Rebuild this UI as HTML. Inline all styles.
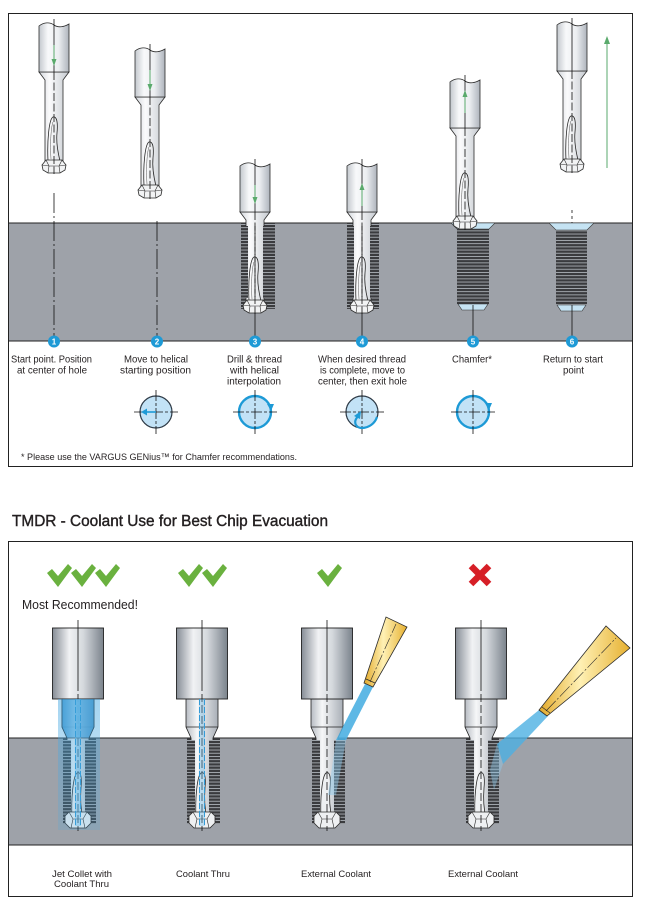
<!DOCTYPE html>
<html><head><meta charset="utf-8"><style>
html,body{margin:0;padding:0;background:#fff;}
svg{display:block;}
text{font-family:"Liberation Sans",sans-serif;fill:#231f20;}
</style></head><body>
<svg width="646" height="903" viewBox="0 0 646 903" xmlns="http://www.w3.org/2000/svg">
<defs>
 <linearGradient id="gTop" x1="0" x2="1" y1="0" y2="0">
  <stop offset="0" stop-color="#c3c8ce"/>
  <stop offset="0.3" stop-color="#f8f9fa"/>
  <stop offset="0.65" stop-color="#eceef1"/>
  <stop offset="1" stop-color="#aeb4bc"/>
 </linearGradient>
 <linearGradient id="gNeckT" x1="0" x2="1" y1="0" y2="0">
  <stop offset="0" stop-color="#d3d7dc"/>
  <stop offset="0.35" stop-color="#fbfbfc"/>
  <stop offset="1" stop-color="#c4c9cf"/>
 </linearGradient>
 <linearGradient id="gMetal" x1="0" x2="1" y1="0" y2="0">
  <stop offset="0" stop-color="#868d96"/>
  <stop offset="0.33" stop-color="#f1f2f4"/>
  <stop offset="0.6" stop-color="#d5d9dd"/>
  <stop offset="1" stop-color="#7b838c"/>
 </linearGradient>
 <linearGradient id="gNeckB" x1="0" x2="1" y1="0" y2="0">
  <stop offset="0" stop-color="#b7bcc3"/>
  <stop offset="0.35" stop-color="#f6f7f8"/>
  <stop offset="1" stop-color="#a9afb7"/>
 </linearGradient>
 <linearGradient id="gBlueNeck" x1="0" x2="1" y1="0" y2="0">
  <stop offset="0" stop-color="#3f97cf"/>
  <stop offset="0.4" stop-color="#8ec6e8"/>
  <stop offset="1" stop-color="#3f8fc6"/>
 </linearGradient>
 <linearGradient id="gGlow" x1="0" x2="0" y1="0" y2="1">
  <stop offset="0" stop-color="#49a9e2" stop-opacity="0.5"/>
  <stop offset="1" stop-color="#49a9e2" stop-opacity="0.2"/>
 </linearGradient>
 <linearGradient id="gCone" x1="0" x2="1" y1="0" y2="0">
  <stop offset="0" stop-color="#e2a92a"/>
  <stop offset="0.45" stop-color="#fff1b5"/>
  <stop offset="1" stop-color="#e6b030"/>
 </linearGradient>
 <pattern id="thr" width="6" height="3.2" patternUnits="userSpaceOnUse">
  <rect width="6" height="3.2" fill="#3a3b3e"/>
  <rect y="0" width="6" height="0.9" fill="#a8adb3"/>
 </pattern>

 <g id="tt">
  <path d="M-15,49 L-9,57 L-9,139 L9,139 L9,57 L15,49 Z" fill="url(#gNeckT)" stroke="#2b2b2b" stroke-width="0.8"/>
  <path d="M-15,3 C-10,-1 -4,-1 0,2 C4,5 10,4 15,1 L15,49 L-15,49 Z" fill="url(#gTop)" stroke="#2b2b2b" stroke-width="0.8"/>
  <path d="M-6,138 C-7,118 -5,96 -1,94 C3,93 4,100 3,110 C2,120 4,130 6,138" fill="none" stroke="#2b2b2b" stroke-width="0.8"/>
  <path d="M-3,136 C-4,120 -3,104 -1,99" fill="none" stroke="#555" stroke-width="0.5"/>
  <path d="M-12,142 L-8,137 L8,137 L12,142 L11,147 L6,150 L-6,150 L-11,147 Z" fill="#f2f3f4" stroke="#2b2b2b" stroke-width="0.8"/>
  <path d="M-8,137 L-5,143 L5,143 L8,137 M-5,143 L-6,150 M5,143 L6,150 M-12,142 L-5,143 M12,142 L5,143" fill="none" stroke="#2b2b2b" stroke-width="0.6"/>
  <path d="M0,-4 L0,49" stroke="#111" stroke-width="0.8"/>
  <path d="M0,49 L0,151" stroke="#111" stroke-width="0.8" stroke-dasharray="8,2.5"/>
 </g>

 <g id="bt">
  <rect x="-15" y="110" width="33" height="86" fill="url(#thr)"/>
  <path d="M-16,71 L16,71 L16,99 L11,110 L11,192 L-11,192 L-11,110 L-16,99 Z" fill="url(#gNeckB)" stroke="#222" stroke-width="0.8"/>
  <path d="M-16,99 L16,99" stroke="#222" stroke-width="0.7"/>
  <rect x="-15" y="112" width="8" height="74" fill="url(#thr)"/>
  <rect x="7" y="112" width="11" height="74" fill="url(#thr)"/>
  <rect x="-25.5" y="0" width="51" height="71" fill="url(#gMetal)" stroke="#222" stroke-width="0.9"/>
  <path d="M-6,190 C-7,172 -5,148 -1,145 C3,143 4,150 3,160 C2,172 3,182 5,190" fill="#eef0f2" stroke="#2b2b2b" stroke-width="0.8"/>
  <path d="M-13,188 L-9,184 L9,184 L13,188 L13,195 L8,200 L-8,200 L-13,195 Z" fill="#eef0f2" stroke="#2b2b2b" stroke-width="0.8"/>
  <path d="M-9,184 L-5,191 L5,191 L9,184 M-5,191 L-7,200 M5,191 L7,200" fill="none" stroke="#2b2b2b" stroke-width="0.6"/>
  <path d="M0,-8 L0,55" stroke="#111" stroke-width="0.8"/>
  <path d="M0,55 L0,203" stroke="#111" stroke-width="0.8" stroke-dasharray="8,3"/>
 </g>

 <g id="chk">
  <polygon points="0,9 5,5 11,12 21,0 25,4 11,23" fill="#6ab13f"/>
 </g>
</defs>

<rect width="646" height="903" fill="#fff"/>

<!-- ================= TOP PANEL ================= -->
<rect x="8.5" y="13.5" width="624" height="453" fill="#fff" stroke="#222" stroke-width="1"/>
<rect x="9" y="223" width="623" height="118" fill="#9ea2a9"/>
<line x1="9" y1="223" x2="632" y2="223" stroke="#222" stroke-width="1"/>
<line x1="9" y1="341" x2="632" y2="341" stroke="#222" stroke-width="1"/>

<!-- holes 3,4 threads -->
<rect x="241" y="223" width="34" height="86" fill="url(#thr)"/>
<rect x="347" y="223" width="32" height="86" fill="url(#thr)"/>
<!-- hole 5 -->
<polygon points="451,223 495,223 489,229 457,229" fill="#c5e3f3" stroke="#333" stroke-width="0.6"/>
<rect x="457" y="229" width="32" height="75" fill="url(#thr)"/>
<polygon points="458,304 488,304 484,310 462,310" fill="#c5e3f3" stroke="#333" stroke-width="0.6"/>
<!-- hole 6 -->
<polygon points="549,223 594,223 587,230 556,230" fill="#c5e3f3" stroke="#333" stroke-width="0.6"/>
<rect x="556" y="230" width="31" height="75" fill="url(#thr)"/>
<polygon points="557,305 586,305 582,311 561,311" fill="#c5e3f3" stroke="#333" stroke-width="0.6"/>

<!-- vertical guide lines -->
<line x1="54" y1="193" x2="54" y2="341" stroke="#111" stroke-width="0.8" stroke-dasharray="20,3,2,3"/>
<line x1="157" y1="221" x2="157" y2="341" stroke="#111" stroke-width="0.8" stroke-dasharray="20,3,2,3"/>
<line x1="255" y1="308" x2="255" y2="341" stroke="#111" stroke-width="0.8"/>
<line x1="362" y1="308" x2="362" y2="341" stroke="#111" stroke-width="0.8"/>
<line x1="473" y1="305" x2="473" y2="341" stroke="#111" stroke-width="0.8"/>
<line x1="572" y1="305" x2="572" y2="341" stroke="#111" stroke-width="0.8"/>
<line x1="572" y1="210" x2="572" y2="223" stroke="#111" stroke-width="0.8" stroke-dasharray="3,3"/>

<!-- tools -->
<use href="#tt" x="54" y="23"/>
<use href="#tt" x="150" y="48"/>
<use href="#tt" x="255" y="163"/>
<use href="#tt" x="362" y="163"/>
<use href="#tt" x="465" y="79"/>
<use href="#tt" x="572" y="22"/>
<!-- tool teeth inside holes 3,4 -->
<rect x="241" y="226" width="7" height="72" fill="url(#thr)"/>
<rect x="263" y="226" width="12" height="72" fill="url(#thr)"/>
<rect x="347" y="226" width="7" height="72" fill="url(#thr)"/>
<rect x="370" y="226" width="9" height="72" fill="url(#thr)"/>
<line x1="255" y1="226" x2="255" y2="298" stroke="#111" stroke-width="0.8" stroke-dasharray="8,2.5"/>
<line x1="362" y1="226" x2="362" y2="298" stroke="#111" stroke-width="0.8" stroke-dasharray="8,2.5"/>

<!-- green arrows -->
<g stroke="#5aaa6c" stroke-width="1" fill="#5aaa6c">
 <line x1="54" y1="45" x2="54" y2="61"/><polygon points="54,66 51.5,59 56.5,59" stroke="none"/>
 <line x1="150" y1="70" x2="150" y2="86"/><polygon points="150,91 147.5,84 152.5,84" stroke="none"/>
 <line x1="255" y1="185" x2="255" y2="199"/><polygon points="255,204 252.5,197 257.5,197" stroke="none"/>
 <line x1="362" y1="206" x2="362" y2="188"/><polygon points="362,183 359.5,190 364.5,190" stroke="none"/>
 <line x1="465" y1="113" x2="465" y2="95"/><polygon points="465,90 462.5,97 467.5,97" stroke="none"/>
 <line x1="607" y1="168" x2="607" y2="42"/><polygon points="607,36 604,44 610,44" stroke="none"/>
</g>

<!-- number circles -->
<g font-size="8" font-weight="bold" text-anchor="middle">
 <circle cx="54" cy="341.5" r="6" fill="#1e9ad6"/><text x="54" y="344.5" style="fill:#fff">1</text>
 <circle cx="157" cy="341.5" r="6" fill="#1e9ad6"/><text x="157" y="344.5" style="fill:#fff">2</text>
 <circle cx="255" cy="341.5" r="6" fill="#1e9ad6"/><text x="255" y="344.5" style="fill:#fff">3</text>
 <circle cx="362" cy="341.5" r="6" fill="#1e9ad6"/><text x="362" y="344.5" style="fill:#fff">4</text>
 <circle cx="473" cy="341.5" r="6" fill="#1e9ad6"/><text x="473" y="344.5" style="fill:#fff">5</text>
 <circle cx="572" cy="341.5" r="6" fill="#1e9ad6"/><text x="572" y="344.5" style="fill:#fff">6</text>
</g>

<!-- step labels -->
<g font-size="10" text-anchor="middle">
 <text x="51.5" y="362.5" textLength="81" lengthAdjust="spacingAndGlyphs">Start point. Position</text>
 <text x="52" y="373.5" textLength="70" lengthAdjust="spacingAndGlyphs">at center of hole</text>
 <text x="156" y="362.5" textLength="64" lengthAdjust="spacingAndGlyphs">Move to helical</text>
 <text x="155.5" y="373.5" textLength="71" lengthAdjust="spacingAndGlyphs">starting position</text>
 <text x="254.5" y="362.5" textLength="55" lengthAdjust="spacingAndGlyphs">Drill &amp; thread</text>
 <text x="254.5" y="373.5" textLength="49" lengthAdjust="spacingAndGlyphs">with helical</text>
 <text x="254" y="384.5" textLength="54" lengthAdjust="spacingAndGlyphs">interpolation</text>
 <text x="362" y="362.5" textLength="88" lengthAdjust="spacingAndGlyphs">When desired thread</text>
 <text x="362.5" y="373.5" textLength="85" lengthAdjust="spacingAndGlyphs">is complete, move to</text>
 <text x="362.5" y="384.5" textLength="89" lengthAdjust="spacingAndGlyphs">center, then exit hole</text>
 <text x="472" y="362.5" textLength="40" lengthAdjust="spacingAndGlyphs">Chamfer*</text>
 <text x="573" y="362.5" textLength="60" lengthAdjust="spacingAndGlyphs">Return to start</text>
 <text x="573.5" y="373.5" textLength="21" lengthAdjust="spacingAndGlyphs">point</text>
</g>

<!-- path circles -->
<g>
 <circle cx="156" cy="412" r="16" fill="#c2e2f6" stroke="#2e3a46" stroke-width="1.2"/>
 <line x1="156" y1="390" x2="156" y2="434" stroke="#111" stroke-width="0.8" stroke-dasharray="11,2,3,2"/>
 <line x1="134" y1="412" x2="178" y2="412" stroke="#111" stroke-width="0.8" stroke-dasharray="11,2,3,2"/>
 <line x1="156" y1="412" x2="146" y2="412" stroke="#1d9ad6" stroke-width="1.6"/>
 <polygon points="141,412 147,408.5 147,415.5" fill="#1d9ad6"/>

 <circle cx="255" cy="412" r="16" fill="#c2e2f6" stroke="#1d9ad6" stroke-width="2.4"/>
 <line x1="255" y1="390" x2="255" y2="434" stroke="#111" stroke-width="0.8" stroke-dasharray="11,2,3,2"/>
 <line x1="233" y1="412" x2="277" y2="412" stroke="#111" stroke-width="0.8" stroke-dasharray="11,2,3,2"/>
 <polygon points="267,404 274,404 271,411" fill="#1d9ad6"/>

 <circle cx="362" cy="412" r="16" fill="#c2e2f6" stroke="#2e3a46" stroke-width="1.2"/>
 <line x1="362" y1="390" x2="362" y2="434" stroke="#111" stroke-width="0.8" stroke-dasharray="11,2,3,2"/>
 <line x1="340" y1="412" x2="384" y2="412" stroke="#111" stroke-width="0.8" stroke-dasharray="11,2,3,2"/>
 <path d="M377,417 A16,16 0 0,1 362,428 C356,428 354,423 356,419 L358,416" fill="none" stroke="#1d9ad6" stroke-width="2.2"/>
 <polygon points="361,411 354,416 360,419" fill="#1d9ad6"/>

 <circle cx="473" cy="412" r="16" fill="#c2e2f6" stroke="#1d9ad6" stroke-width="2.4"/>
 <line x1="473" y1="390" x2="473" y2="434" stroke="#111" stroke-width="0.8" stroke-dasharray="11,2,3,2"/>
 <line x1="451" y1="412" x2="495" y2="412" stroke="#111" stroke-width="0.8" stroke-dasharray="11,2,3,2"/>
 <polygon points="485,403 492,403 489,410" fill="#1d9ad6"/>
</g>

<text x="21" y="460" font-size="9.5" textLength="276" lengthAdjust="spacingAndGlyphs">* Please use the VARGUS GENius™ for Chamfer recommendations.</text>

<!-- ================= TITLE ================= -->
<text x="12" y="526" font-size="15.5" textLength="316" lengthAdjust="spacingAndGlyphs" stroke="#231f20" stroke-width="0.4">TMDR - Coolant Use for Best Chip Evacuation</text>

<!-- ================= BOTTOM PANEL ================= -->
<rect x="8.5" y="541.5" width="624" height="355" fill="#fff" stroke="#222" stroke-width="1"/>
<rect x="9" y="738" width="623" height="107" fill="#9ea2a9"/>
<line x1="9" y1="738" x2="632" y2="738" stroke="#222" stroke-width="1"/>
<line x1="9" y1="845" x2="632" y2="845" stroke="#222" stroke-width="1"/>

<!-- checks -->
<use href="#chk" x="47" y="564"/>
<use href="#chk" x="71" y="564"/>
<use href="#chk" x="95" y="564"/>
<use href="#chk" x="178" y="564"/>
<use href="#chk" x="202" y="564"/>
<use href="#chk" x="317" y="564"/>
<g stroke="#d61f27" stroke-width="6.5">
 <line x1="471" y1="566" x2="489" y2="584"/>
 <line x1="489" y1="566" x2="471" y2="584"/>
</g>

<text x="22" y="609" font-size="12.5" textLength="116" lengthAdjust="spacingAndGlyphs">Most Recommended!</text>

<!-- tools -->
<use href="#bt" x="78" y="628"/>
<use href="#bt" x="202" y="628"/>
<use href="#bt" x="327" y="628"/>
<use href="#bt" x="481" y="628"/>

<!-- jet collet coolant -->
<path d="M62,699 L94,699 L94,727 L89,738 L67,738 L62,727 Z" fill="url(#gBlueNeck)" stroke="#222" stroke-width="0.8" opacity="0.9"/>
<rect x="58" y="699" width="42" height="131" fill="url(#gGlow)"/>
<g stroke="#1f8fd0" stroke-width="1" stroke-dasharray="6,2">
 <line x1="75.5" y1="699" x2="75.5" y2="826"/>
 <line x1="80.5" y1="699" x2="80.5" y2="826"/>
 <line x1="199.5" y1="699" x2="199.5" y2="826"/>
 <line x1="204.5" y1="699" x2="204.5" y2="826"/>
</g>
<rect x="199" y="699" width="6" height="127" fill="#5db3e6" opacity="0.35"/>
<rect x="75" y="699" width="6" height="127" fill="#5db3e6" opacity="0.4"/>

<!-- nozzle 3 -->
<polygon points="365,684 373,687 346,740 336,740" fill="#4cb0e2" opacity="0.9"/>
<polygon points="336,740 346,740 336,795 328,795" fill="#8ecdf0" opacity="0.45"/>
<polygon points="364,683 373,687 407,627 386,617" fill="url(#gCone)" stroke="#2b2b2b" stroke-width="0.8"/>
<line x1="366" y1="679" x2="375" y2="683" stroke="#2b2b2b" stroke-width="0.7"/>
<line x1="370" y1="682" x2="396" y2="624" stroke="#2b2b2b" stroke-width="0.6" stroke-dasharray="12,2,2,2"/>

<!-- nozzle 4 -->
<polygon points="539,710 548,716 503,764 497,744" fill="#4cb0e2" opacity="0.8"/>
<polygon points="497,744 503,764 494,790 490,770" fill="#8ecdf0" opacity="0.4"/>
<polygon points="539,710 547,716 630,648 606,626" fill="url(#gCone)" stroke="#2b2b2b" stroke-width="0.8"/>
<line x1="542" y1="707" x2="550" y2="713" stroke="#2b2b2b" stroke-width="0.7"/>
<line x1="546" y1="711" x2="616" y2="638" stroke="#2b2b2b" stroke-width="0.6" stroke-dasharray="14,2,2,2"/>

<!-- bottom labels -->
<g font-size="9.5" text-anchor="middle">
 <text x="82" y="877" textLength="60" lengthAdjust="spacingAndGlyphs">Jet Collet with</text>
 <text x="81.5" y="887" textLength="55" lengthAdjust="spacingAndGlyphs">Coolant Thru</text>
 <text x="203" y="877" textLength="54" lengthAdjust="spacingAndGlyphs">Coolant Thru</text>
 <text x="336" y="877" textLength="70" lengthAdjust="spacingAndGlyphs">External Coolant</text>
 <text x="483" y="877" textLength="70" lengthAdjust="spacingAndGlyphs">External Coolant</text>
</g>
</svg>
</body></html>
